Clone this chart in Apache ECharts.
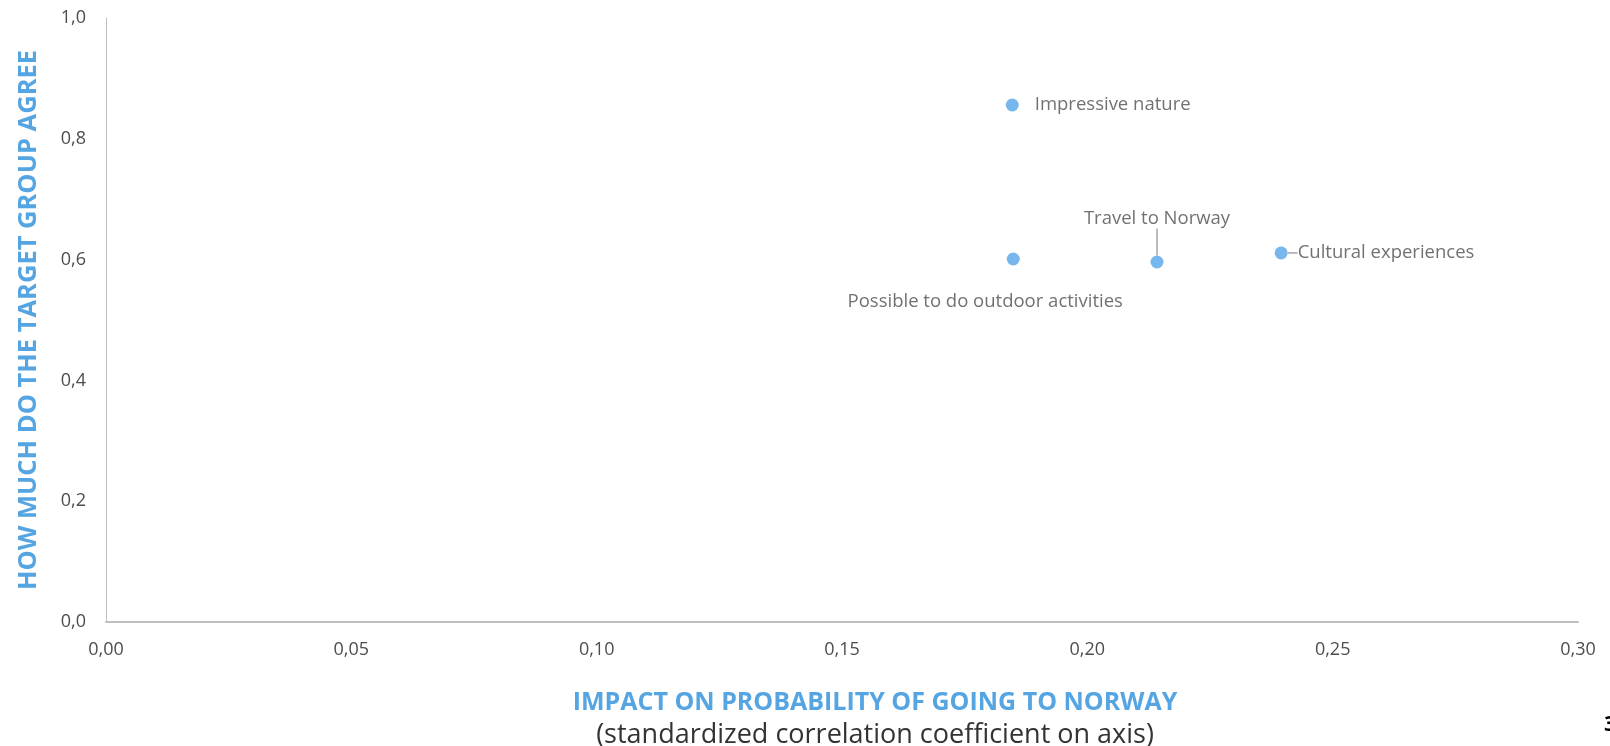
<!DOCTYPE html>
<html>
<head>
<meta charset="utf-8">
<script src="https://cdn.jsdelivr.net/npm/echarts@6/dist/echarts.min.js"></script>
<style>
  html, body { margin: 0; padding: 0; background: #fff; }
  #chart { width: 1610px; height: 746px; }
</style>
</head>
<body>
<div id="chart"></div>
<script>
// values
const names = ['Impressive nature', 'Possible to do outdoor activities', 'Travel to Norway', 'Cultural experiences'];
const impact = [0.1847, 0.1849, 0.2142, 0.2395];
const agree = [0.856, 0.601, 0.596, 0.611];
const xTicks = [0, 0.05, 0.10, 0.15, 0.20, 0.25, 0.30];
const yTicks = [0, 0.2, 0.4, 0.6, 0.8, 1.0];

const dotColor = '#55a5e8';
const textColor = '#4d4d4d';
const font = '"Open Sans", "Noto Sans", sans-serif';

const chart = echarts.init(document.getElementById('chart'));

const pt = i => [impact[i], agree[i], names[i]];
const labelText = p => p.value[2];

const option = {
  animation: false,
  textStyle: { fontFamily: font },
  grid: { left: 106, right: 32, top: 18, bottom: 124 },
  xAxis: {
    type: 'value',
    min: xTicks[0],
    max: xTicks[xTicks.length - 1],
    interval: 0.05,
    splitLine: { show: false },
    axisTick: { show: false },
    axisLine: { lineStyle: { color: '#bfbfbf', width: 2 } },
    axisLabel: {
      color: textColor, fontSize: 18, margin: 19, fontFamily: font,
      formatter: v => v.toFixed(2).replace('.', ',')
    }
  },
  yAxis: {
    type: 'value',
    min: yTicks[0],
    max: yTicks[yTicks.length - 1],
    interval: 0.2,
    splitLine: { show: false },
    axisTick: { show: false },
    axisLine: { show: true, lineStyle: { color: '#bfbfbf', width: 1 } },
    axisLabel: {
      color: textColor, fontSize: 18, margin: 20, fontFamily: font,
      formatter: v => v.toFixed(1).replace('.', ',')
    },
    name: 'HOW MUCH DO THE TARGET GROUP AGREE',
    nameLocation: 'middle',
    nameGap: 64,
    nameRotate: 90,
    nameTextStyle: { color: '#56a5e3', fontSize: 25.5, fontWeight: 'bold', fontFamily: font }
  },
  title: [
    {
      text: 'IMPACT ON PROBABILITY OF GOING TO NORWAY',
      left: 870, top: 685, textAlign: 'center',
      textStyle: { color: '#56a5e3', fontSize: 25, fontWeight: 'bold', fontFamily: font }
    },
    {
      text: '(standardized correlation coefficient on axis)',
      left: 870, top: 717, textAlign: 'center',
      textStyle: { color: '#333333', fontSize: 27, fontWeight: 'normal', fontFamily: font }
    },
    {
      text: '3',
      left: 1599, top: 709,
      textStyle: { color: '#000', fontSize: 22, fontWeight: 'bold', fontFamily: font }
    }
  ],
  series: [
    {
      type: 'scatter',
      symbolSize: 13,
      itemStyle: { color: dotColor },
      label: {
        show: true, color: textColor, fontSize: 18.5, fontFamily: font,
        formatter: labelText
      },
      data: [
        { value: pt(0), label: { position: 'right', distance: 16 } },
        { value: pt(1), label: { position: 'bottom', distance: 27, offset: [-28, 0] } }
      ]
    },
    {
      type: 'scatter',
      symbolSize: 13,
      itemStyle: { color: dotColor },
      label: {
        show: true, color: textColor, fontSize: 18.5, fontFamily: font,
        formatter: labelText
      },
      labelLine: { show: true, lineStyle: { color: '#a6a6a6', width: 1.5 } },
      labelLayout: p => p.dataIndex === 0 ? { dy: -27 } : { dx: 6 },
      data: [
        { value: pt(2), label: { position: 'top', distance: 0 } },
        { value: pt(3), label: { position: 'right', distance: 4 } }
      ]
    }
  ]
};

chart.setOption(option);
</script>
</body>
</html>
